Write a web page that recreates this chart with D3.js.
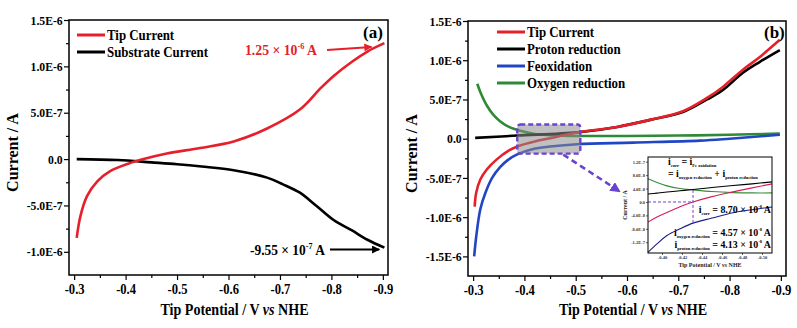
<!DOCTYPE html>
<html>
<head>
<meta charset="utf-8">
<script src="https://cdn.jsdelivr.net/npm/d3@7"></script>
<style>
  body { margin: 0; background: #fff; }
  svg { display: block; }
  text { font-family: "Liberation Serif", "Times New Roman", serif; font-weight: bold; }
</style>
</head>
<body>
<svg id="chart" width="797" height="328"></svg>
<script>
// ---- data (currents in units of 1e-7 A, inset in 1e-8 A) ----
const xTicks = [-0.3, -0.4, -0.5, -0.6, -0.7, -0.8, -0.9];
const xTickLabels = ['-0.3', '-0.4', '-0.5', '-0.6', '-0.7', '-0.8', '-0.9'];
const yTicksA = [-10, -5, 0, 5, 10, 15];
const yTickLabelsA = ['-1.0E-6', '-5.0E-7', '0.0', '5.0E-7', '1.0E-6', '1.5E-6'];
const yTicksB = [-15, -10, -5, 0, 5, 10, 15];
const yTickLabelsB = ['-1.5E-6', '-1.0E-6', '-5.0E-7', '0.0', '5.0E-7', '1.0E-6', '1.5E-6'];

// panel (a)
const potTipA = [-0.305, -0.312, -0.325, -0.345, -0.37, -0.405, -0.435, -0.48, -0.545, -0.61, -0.675, -0.74, -0.78, -0.805, -0.84, -0.87, -0.903];
const tipA    = [-8.5, -6.2, -4.0, -2.4, -1.3, -0.5, 0.0, 0.6, 1.2, 1.9, 3.3, 5.4, 7.7, 9.0, 10.5, 11.6, 12.5];
const potSubA = [-0.305, -0.385, -0.45, -0.50, -0.548, -0.61, -0.675, -0.705, -0.738, -0.77, -0.805, -0.84, -0.87, -0.903];
const subA    = [0.0, -0.1, -0.35, -0.55, -0.8, -1.2, -2.0, -2.7, -3.6, -5.0, -6.6, -7.7, -8.7, -9.55];

// panel (b)
const potTipB    = [-0.303, -0.306, -0.314, -0.327, -0.345, -0.37, -0.39, -0.42, -0.45, -0.503, -0.581, -0.645, -0.709, -0.756, -0.787, -0.826, -0.859, -0.898];
const tipB       = [-8.65, -6.9, -5.2, -3.9, -2.7, -1.5, -0.9, -0.35, 0.05, 0.8, 1.5, 2.4, 3.5, 5.2, 6.6, 8.8, 10.4, 12.6];
const potProtonB = [-0.304, -0.386, -0.503, -0.581, -0.645, -0.709, -0.756, -0.787, -0.826, -0.859, -0.898];
const protonB    = [0.1, 0.4, 0.8, 1.5, 2.4, 3.4, 5.0, 6.2, 8.4, 9.8, 11.3];
const potFeB     = [-0.302, -0.306, -0.314, -0.324, -0.337, -0.353, -0.368, -0.386, -0.417, -0.45, -0.503, -0.612, -0.742, -0.8, -0.898];
const feB        = [-15.0, -12.5, -9.0, -6.9, -5.0, -3.6, -2.7, -2.0, -1.3, -1.0, -0.7, -0.5, -0.25, 0.0, 0.5];
const potOxyB    = [-0.308, -0.315, -0.327, -0.34, -0.353, -0.37, -0.392, -0.42, -0.45, -0.5, -0.6, -0.7, -0.8, -0.898];
const oxyB       = [7.0, 5.8, 4.2, 3.0, 2.2, 1.5, 1.0, 0.6, 0.45, 0.35, 0.35, 0.4, 0.5, 0.65];

// inset (1e-8 A)
const insetPot   = [-0.386, -0.395, -0.405, -0.418, -0.431, -0.45, -0.471, -0.49, -0.51];
const insetGreen = [6.9, 5.8, 4.8, 4.0, 3.6, 3.1, 2.8, 2.7, 2.7];
const insetBlack = [2.4, 2.65, 2.95, 3.35, 3.7, 4.3, 4.9, 5.4, 6.0];
const insetRed   = [-6.0, -4.5, -3.1, -1.4, 0.0, 1.6, 3.0, 4.2, 5.4];
const insetBlue  = [-15.0, -12.5, -10.0, -8.0, -6.3, -4.8, -3.2, -2.3, -1.5];
const insetXTicks = [-0.40, -0.42, -0.44, -0.46, -0.48, -0.50];
const insetXLabels = ['-0.40', '-0.42', '-0.44', '-0.46', '-0.48', '-0.50'];
const insetYTicks = [12, 8, 4, 0, -4, -8, -12];
const insetYLabels = ['1.2E-7', '8.0E-8', '4.0E-8', '0.0', '-4.0E-8', '-8.0E-8', '-1.2E-7'];
const iCorrPot = -0.431;

const RED = '#e5202a', BLUE = '#2146c4', GREEN = '#2e8a36', PURPLE = '#6a44cc';

const svg = d3.select('#chart');
svg.append('rect').attr('width', 797).attr('height', 328).attr('fill', '#fff');

// rich text helper: parts are strings or {t, sup, sub, it, size}
function rich(g, x, y, parts, o) {
  const size = o.size;
  const t = g.append('text')
    .attr('transform', `translate(${x},${y}) scale(${o.sx || 1},1)`)
    .attr('font-size', size)
    .attr('fill', o.fill || '#000')
    .attr('text-anchor', o.anchor || 'start');
  let shift = 0;
  parts.forEach(p => {
    const s = typeof p === 'string' ? { t: p } : p;
    const ts = t.append('tspan').text(s.t);
    let want = 0;
    if (s.sup) want = -size * 0.42;
    if (s.sub) want = size * 0.15;
    ts.attr('dy', want - shift);
    shift = want;
    if (s.sup || s.sub) ts.attr('font-size', s.size || size * 0.6);
    if (s.it) ts.attr('font-style', 'italic');
  });
  return t;
}

function panel(opt) {
  const g = svg.append('g');
  const x = d3.scaleLinear().domain([-0.29, -0.91]).range([opt.left, opt.right]);
  const y = d3.scaleLinear().domain(opt.yDomain).range([opt.bottom, opt.top]);

  // minor ticks
  const xMinor = xTicks.slice(0, -1).map(d => d - 0.05);
  g.append('g').attr('transform', `translate(0,${opt.bottom})`)
    .call(d3.axisBottom(x).tickValues(xMinor).tickSize(3).tickFormat(''))
    .call(a => a.select('.domain').remove());
  const yMinor = opt.yTicks.slice(0, -1).map(d => d + 2.5).concat([opt.yTicks[0] - 2.5]);
  g.append('g').attr('transform', `translate(${opt.left},0)`)
    .call(d3.axisLeft(y).tickValues(yMinor.filter(d => d > opt.yDomain[0])).tickSize(3).tickFormat(''))
    .call(a => a.select('.domain').remove());

  // major ticks
  const xa = g.append('g').attr('transform', `translate(0,${opt.bottom})`)
    .call(d3.axisBottom(x).tickValues(xTicks).tickSize(5).tickPadding(4)
      .tickFormat((d, i) => xTickLabels[i]))
    .call(a => a.select('.domain').remove());
  xa.selectAll('text').attr('font-size', 14).attr('font-family', '"Liberation Serif", serif')
    .attr('font-weight', 'bold').attr('fill', '#000').attr('transform', 'scale(0.9,1)');
  const ya = g.append('g').attr('transform', `translate(${opt.left},0)`)
    .call(d3.axisLeft(y).tickValues(opt.yTicks).tickSize(5).tickPadding(2)
      .tickFormat((d, i) => opt.yLabels[i]))
    .call(a => a.select('.domain').remove());
  ya.selectAll('text').attr('font-size', 13).attr('font-family', '"Liberation Serif", serif')
    .attr('font-weight', 'bold').attr('fill', '#000').attr('transform', 'scale(0.9,1)');
  g.selectAll('.tick line').attr('stroke', '#000').attr('stroke-width', 1.2);

  // axis titles
  g.append('text').attr('transform', `translate(${opt.left - 51},${(opt.top + opt.bottom) / 2 + 5}) rotate(-90)`)
    .attr('text-anchor', 'middle').attr('font-size', 16).text('Current / A');
  rich(g, (opt.left + opt.right) / 2 + 6, 315,
    ['Tip Potential / V ', { t: 'vs', it: true }, ' NHE'], { size: 16, anchor: 'middle', sx: 0.88 });

  const line = (xs) => d3.line().x((d, i) => x(xs[i])).y(d => y(d)).curve(d3.curveCatmullRom.alpha(0.5));
  return { g, x, y, line };
}

function frame(p, opt) {
  p.g.append('rect').attr('x', opt.left).attr('y', opt.top)
    .attr('width', opt.right - opt.left).attr('height', opt.bottom - opt.top)
    .attr('fill', 'none').attr('stroke', '#000').attr('stroke-width', 1.5);
}

function series(p, xs, ys, color, w) {
  p.g.append('path').datum(ys).attr('fill', 'none').attr('stroke', color)
    .attr('stroke-width', w || 2.6).attr('stroke-linejoin', 'round').attr('d', p.line(xs));
}

function legend(g, x0, y0, dy, items, size) {
  items.forEach((it, i) => {
    const yy = y0 + i * dy;
    g.append('line').attr('x1', x0).attr('x2', x0 + 28).attr('y1', yy).attr('y2', yy)
      .attr('stroke', it.color).attr('stroke-width', 3);
    rich(g, x0 + 30, yy + 5, [it.name], { size: size, sx: 0.86 });
  });
}

svg.append('defs').html(
  `<marker id="ahRed" viewBox="0 0 10 10" refX="9" refY="5" markerWidth="5" markerHeight="4" orient="auto"><path d="M0,0L10,5L0,10z" fill="${RED}"/></marker>
   <marker id="ahBlack" viewBox="0 0 10 10" refX="9" refY="5" markerWidth="5" markerHeight="4" orient="auto"><path d="M0,0L10,5L0,10z" fill="#000"/></marker>
   <marker id="ahPurple" viewBox="0 0 10 10" refX="8" refY="5" markerWidth="4" markerHeight="4" orient="auto"><path d="M0,0L10,5L0,10z" fill="${PURPLE}"/></marker>`);

// ---------- panel (a) ----------
const optA = { left: 69, right: 388, top: 20, bottom: 275, yDomain: [-12.5, 15], yTicks: yTicksA, yLabels: yTickLabelsA };
const pA = panel(optA);
series(pA, potSubA, subA, '#000');
series(pA, potTipA, tipA, RED);
frame(pA, optA);
legend(pA.g, 77, 35, 17, [{ name: 'Tip Current', color: RED }, { name: 'Substrate Current', color: '#000' }], 15);
rich(pA.g, 363, 38, ['(a)'], { size: 17 });
rich(pA.g, 245, 55, ['1.25 × 10', { t: '-6', sup: true }, ' A'], { size: 14, fill: RED, sx: 0.98 });
pA.g.append('line').attr('x1', 327).attr('y1', 50).attr('x2', pA.x(-0.878)).attr('y2', pA.y(12.1))
  .attr('stroke', RED).attr('stroke-width', 2).attr('marker-end', 'url(#ahRed)');
rich(pA.g, 250, 255, ['-9.55 × 10', { t: '-7', sup: true }, ' A'], { size: 14, sx: 0.96 });
pA.g.append('line').attr('x1', 330).attr('y1', 249.5).attr('x2', pA.x(-0.893)).attr('y2', 249.5)
  .attr('stroke', '#000').attr('stroke-width', 2).attr('marker-end', 'url(#ahBlack)');

// ---------- panel (b) ----------
const optB = { left: 468, right: 786, top: 21, bottom: 276, yDomain: [-17.5, 15], yTicks: yTicksB, yLabels: yTickLabelsB };
const pB = panel(optB);
series(pB, potOxyB, oxyB, GREEN);
series(pB, potFeB, feB, BLUE);
series(pB, potProtonB, protonB, '#000');
series(pB, potTipB, tipB, RED);
frame(pB, optB);
legend(pB.g, 497, 32, 17, [
  { name: 'Tip Current', color: RED },
  { name: 'Proton reduction', color: '#000' },
  { name: 'Feoxidation', color: BLUE },
  { name: 'Oxygen reduction', color: GREEN }], 15);
rich(pB.g, 764, 38, ['(b)'], { size: 17 });

// zoom box
const bx0 = pB.x(-0.386), bx1 = pB.x(-0.509), by0 = pB.y(1.8), by1 = pB.y(-1.9);
pB.g.append('rect').attr('x', bx0).attr('y', by0).attr('width', bx1 - bx0).attr('height', by1 - by0)
  .attr('rx', 3).attr('fill', '#8c8c8c').attr('fill-opacity', 0.55)
  .attr('stroke', PURPLE).attr('stroke-width', 2.4).attr('stroke-dasharray', '5,3');
pB.g.append('line').attr('x1', bx1 - 17).attr('y1', by1 + 1).attr('x2', 619).attr('y2', 191)
  .attr('stroke', PURPLE).attr('stroke-width', 2.6).attr('stroke-dasharray', '6,4')
  .attr('marker-end', 'url(#ahPurple)');

// ---------- inset ----------
const ix = d3.scaleLinear().domain([-0.386, -0.51]).range([648, 772]);
const iy = d3.scaleLinear().domain([-15.2, 13.4]).range([253, 157]);
const ig = svg.append('g');
ig.append('rect').attr('x', 648).attr('y', 157).attr('width', 124).attr('height', 96).attr('fill', '#fff');
const iline = d3.line().x((d, i) => ix(insetPot[i])).y(d => iy(d)).curve(d3.curveCatmullRom.alpha(0.5));
[[insetGreen, '#3a8c3a'], [insetBlack, '#000'], [insetRed, '#d61f5a'], [insetBlue, '#1c1c8c']].forEach(([v, c]) => {
  ig.append('path').datum(v).attr('fill', 'none').attr('stroke', c).attr('stroke-width', 1.1).attr('d', iline);
});
ig.append('line').attr('x1', 648).attr('x2', ix(iCorrPot)).attr('y1', iy(0)).attr('y2', iy(0))
  .attr('stroke', '#7a3fd0').attr('stroke-width', 1).attr('stroke-dasharray', '3,2');
ig.append('line').attr('x1', ix(iCorrPot)).attr('x2', ix(iCorrPot))
  .attr('y1', iy(insetGreen[insetPot.indexOf(iCorrPot)])).attr('y2', iy(insetBlue[insetPot.indexOf(iCorrPot)]))
  .attr('stroke', '#7a3fd0').attr('stroke-width', 1).attr('stroke-dasharray', '3,2');
ig.append('rect').attr('x', 648).attr('y', 157).attr('width', 124).attr('height', 96)
  .attr('fill', 'none').attr('stroke', '#000').attr('stroke-width', 1);

ig.append('g').attr('transform', 'translate(0,253)')
  .call(d3.axisBottom(ix).tickValues(insetXTicks).tickSize(2).tickPadding(1).tickFormat((d, i) => insetXLabels[i]))
  .call(a => a.select('.domain').remove());
ig.append('g').attr('transform', 'translate(648,0)')
  .call(d3.axisLeft(iy).tickValues(insetYTicks).tickSize(2).tickPadding(1).tickFormat((d, i) => insetYLabels[i]))
  .call(a => a.select('.domain').remove());
ig.selectAll('.tick text').attr('font-size', 4.5).attr('font-family', '"Liberation Serif", serif').attr('fill', '#333');
ig.selectAll('.tick line').attr('stroke', '#000').attr('stroke-width', 0.6);
rich(ig, 710, 267, ['Tip Potential / V ', { t: 'vs', it: true }, ' NHE'], { size: 6, anchor: 'middle', fill: '#222' });
ig.append('text').attr('transform', 'translate(627,205) rotate(-90)').attr('text-anchor', 'middle')
  .attr('font-size', 6).attr('fill', '#222').text('Current / A');

rich(ig, 668, 165, ['i', { t: 'corr', sub: true, size: 5 }, ' = i', { t: 'Fe oxidation', sub: true, size: 5 }], { size: 11, sx: 0.9 });
rich(ig, 668, 177, ['= i', { t: 'oxygen reduction', sub: true, size: 5 }, ' + i', { t: 'proton reduction', sub: true, size: 5 }], { size: 11, sx: 0.9 });
rich(ig, 771, 213, ['i', { t: 'corr', sub: true, size: 5 }, ' = 8.70 × 10', { t: '-8', sup: true, size: 5 }, ' A'], { size: 11, anchor: 'end', sx: 0.9 });
rich(ig, 771, 236, ['i', { t: 'oxygen reduction', sub: true, size: 5 }, ' = 4.57 × 10', { t: '-8', sup: true, size: 5 }, ' A'], { size: 11, anchor: 'end', sx: 0.9 });
rich(ig, 771, 248, ['i', { t: 'proton reduction', sub: true, size: 5 }, ' = 4.13 × 10', { t: '-8', sup: true, size: 5 }, ' A'], { size: 11, anchor: 'end', sx: 0.9 });
</script>
</body>
</html>
